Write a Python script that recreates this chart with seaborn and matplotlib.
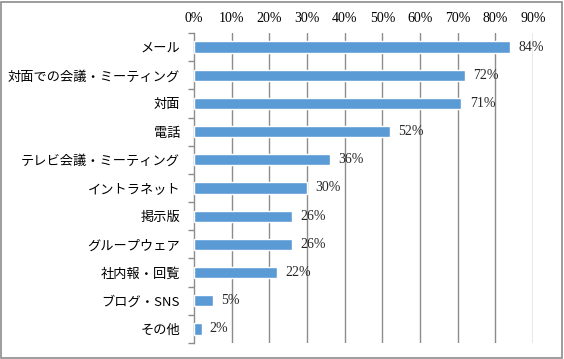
import matplotlib
matplotlib.use("Agg")
import matplotlib.pyplot as plt
import seaborn as sns
import pandas as pd
import numpy as np
from matplotlib.patches import Rectangle

categories = ["メール", "対面での会議・ミーティング", "対面", "電話", "テレビ会議・ミーティング",
              "イントラネット", "掲示版", "グループウェア", "社内報・回覧", "ブログ・SNS", "その他"]
values = [84, 72, 71, 52, 36, 30, 26, 26, 22, 5, 2]
xticks = [0, 10, 20, 30, 40, 50, 60, 70, 80, 90]

sns.set_theme(style="white")
plt.rcParams['font.family'] = ['Noto Sans CJK JP', 'DejaVu Sans']

df = pd.DataFrame({"cat": categories, "val": values})

fig = plt.figure(figsize=(5.64, 3.59), dpi=100)
ax = fig.add_axes([194/564, 1 - 343/359, (533 - 194)/564, (343 - 33)/359])

sns.barplot(data=df, x="val", y="cat", orient="h", color="#5B9BD5", saturation=1,
            width=0.4, ax=ax, zorder=3)

ax.set_xlim(0, 90)
ax.set_ylim(len(categories) - 0.5, -0.5)
ax.set_xticks(xticks)
ax.set_xticklabels([f"{t}%" for t in xticks], family=['Liberation Serif'], fontsize=10)
ax.xaxis.tick_top()
ax.tick_params(axis='x', which='major', direction='out', length=0, pad=6, colors='black')
ax.set_xlabel("")
ax.set_ylabel("")

for t in xticks[1:]:
    ax.axvline(t, color="#8c8c8c", lw=1, zorder=1)

ax.set_yticks(range(len(categories)))
ax.set_yticklabels(categories, fontsize=9.5)
ax.tick_params(axis='y', which='major', length=0, pad=10, colors='black')
ax.set_yticks(np.arange(-0.5, len(categories) + 0.5, 1), minor=True)
ax.tick_params(axis='y', which='minor', direction='out', length=4, width=1, color='#8c8c8c', left=True)
ax.set_xticks(xticks, minor=True)
ax.tick_params(axis='x', which='minor', direction='out', length=4, width=1, color='#8c8c8c', top=True, bottom=False)

for s in ["top", "right", "bottom"]:
    ax.spines[s].set_visible(False)
ax.spines["left"].set_color("#8c8c8c")
ax.spines["left"].set_linewidth(1)

ax.bar_label(ax.containers[0], labels=[f"{v}%" for v in values], padding=6,
             family=['Liberation Serif'], fontsize=10)

fig.patches.append(Rectangle((0.002, 0.004), 0.994, 0.99, transform=fig.transFigure,
                             fill=False, edgecolor="#8c8c8c", lw=1.2))

fig.savefig("out.png", dpi=100)
